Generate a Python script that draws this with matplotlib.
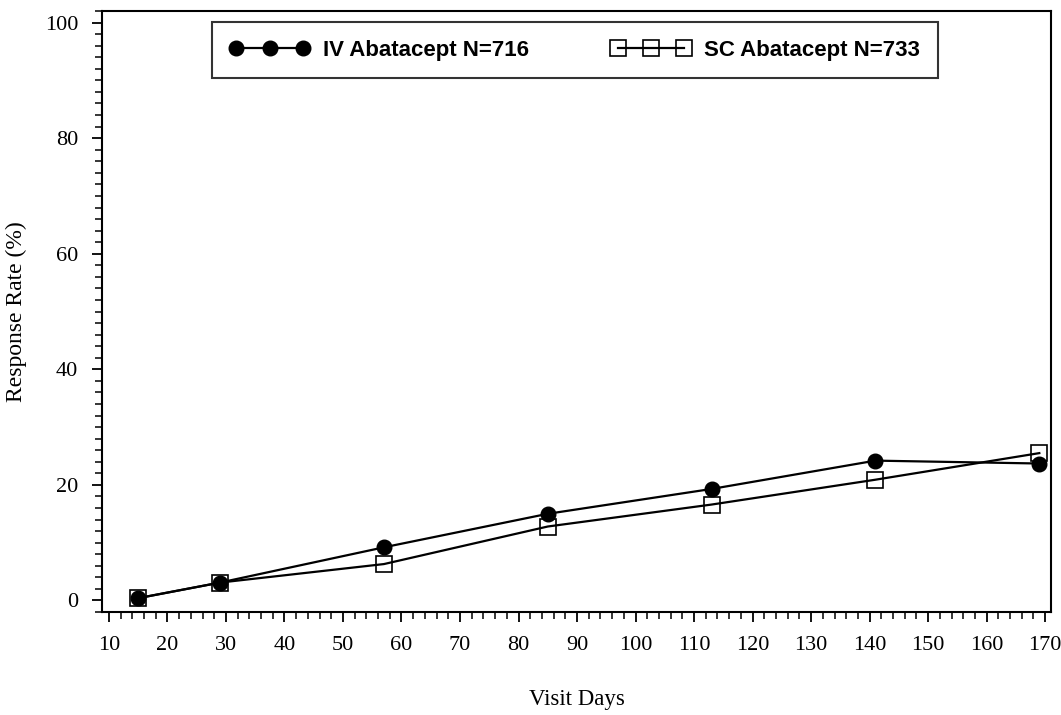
import matplotlib.pyplot as plt
from matplotlib.ticker import MultipleLocator

# datos
visit_days = [15, 29, 57, 85, 113, 141, 169]
iv_rate = [0.4, 3.1, 9.2, 15.0, 19.3, 24.2, 23.7]
sc_rate = [0.4, 3.1, 6.3, 12.8, 16.6, 20.9, 25.5]
iv_label = 'IV Abatacept N=716'
sc_label = 'SC Abatacept N=733'

fig = plt.figure(figsize=(10.61, 7.15), dpi=100)
ax = fig.add_axes([0.096, 0.144, 0.8946, 0.8406])

ax.plot(visit_days, iv_rate, color='black', lw=1.6, marker='o', ms=10.5,
        mfc='black', mec='black', label=iv_label)
ax.plot(visit_days, sc_rate, color='black', lw=1.6, marker='s', ms=11,
        mfc='none', mec='black', mew=1.2, label=sc_label)

ax.set_xlim(8.8, 171)
ax.set_ylim(-2, 102)
ax.xaxis.set_major_locator(MultipleLocator(10))
ax.xaxis.set_minor_locator(MultipleLocator(2))
ax.yaxis.set_major_locator(MultipleLocator(20))
ax.yaxis.set_minor_locator(MultipleLocator(2))

serif = 'Liberation Serif'
ax.tick_params(which='major', direction='out', length=7, width=1.3,
               labelsize=16, pad=10)
ax.tick_params(which='minor', direction='out', length=5, width=1.1)
for lab in ax.get_xticklabels() + ax.get_yticklabels():
    lab.set_fontfamily(serif)

for sp in ax.spines.values():
    sp.set_linewidth(1.5)

ax.set_xlabel('Visit Days', fontsize=16.5, fontfamily=serif, labelpad=25)
ax.set_ylabel('Response Rate (%)', fontsize=17, fontfamily=serif, labelpad=13)

# leyenda ancha arriba, como en el original
leg = ax.legend(loc='upper left', ncol=2, numpoints=3, handlelength=3.6,
                handletextpad=0.6, frameon=True, mode='expand',
                fancybox=False, edgecolor='black', borderpad=0.8,
                borderaxespad=0,
                bbox_to_anchor=(0.116, 0.0, 0.765, 0.982),
                prop={'family': 'Liberation Sans', 'weight': 'bold', 'size': 16})
leg.get_frame().set_linewidth(1.5)

plt.savefig('out.png', dpi=100)
